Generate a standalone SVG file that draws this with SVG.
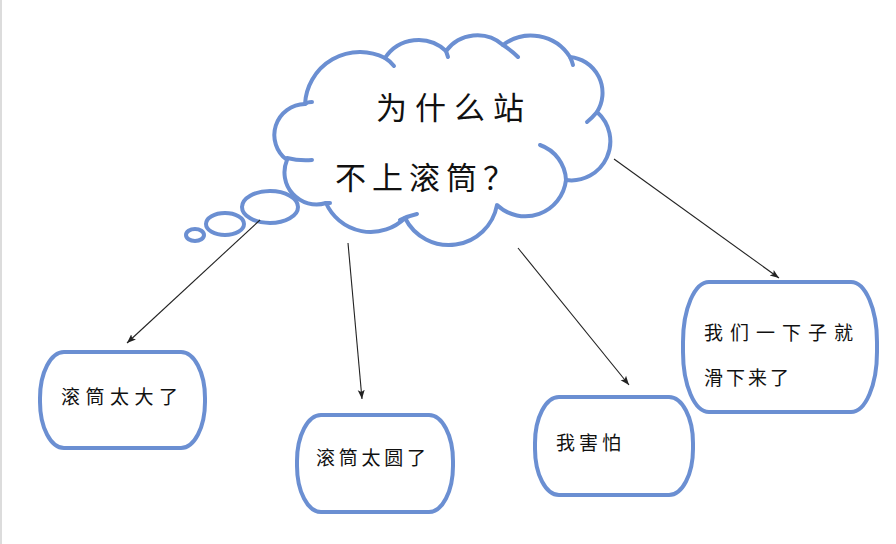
<svg xmlns="http://www.w3.org/2000/svg" width="896" height="544" viewBox="0 0 896 544">
<style>
.shape{fill:#fff;stroke:#6b8fd2;stroke-width:4;stroke-linecap:round;stroke-linejoin:round}
.hook{fill:none;stroke:#6b8fd2;stroke-width:4;stroke-linecap:round}
.conn{fill:none;stroke:#222;stroke-width:1.1}
.t{font-family:"Noto Sans CJK SC","Noto Sans CJK JP",sans-serif;fill:#111}
.big{font-size:31px}
.sm{font-size:19px}
</style>
<defs>
<marker id="ah" markerUnits="userSpaceOnUse" markerWidth="10" markerHeight="10" viewBox="0 0 10 10" refX="9" refY="5" orient="auto">
<path d="M0,1.5 L9,5 L0,8.5 L2,5 Z" fill="#222"/>
</marker>
</defs>
<rect width="896" height="544" fill="#fff"/>
<line x1="1" y1="0" x2="1" y2="544" stroke="#dcdcdc" stroke-width="2"/>

<g id="cloud">
<path class="shape" d="M305,104 A55,55 0 0 1 385,58 A40,40 0 0 1 446,51 A39,39 0 0 1 503,45 A46,46 0 0 1 570,57 A36,36 0 0 1 597,112 A39,39 0 0 1 566,180 A41,41 0 0 1 497,205 A49,49 0 0 1 405,218 A49,49 0 0 1 326,203 A32,32 0 0 1 287,160 A31,31 0 0 1 305,104 Z"/>
<path class="hook" d="M540,145 A39,39 0 0 1 566,180"/>
<path class="hook" d="M400,220 Q408,216 417,214"/>
<path class="hook" d="M287,158 Q299,161 312,160"/>
<path class="hook" d="M385,58 Q390,61 394,66"/>
<path class="hook" d="M446,51 Q447,54 448,57"/>
<path class="hook" d="M503,45 Q511,50 518,57"/>
<path class="hook" d="M570,57 Q572,61 573,65"/>
<path class="hook" d="M597,112 Q592,118 587,122"/>
<path class="hook" d="M326,203 Q328,203 330,203"/>
<path class="hook" d="M305,104 Q307,102 312,102"/>
<text class="t big" x="376" y="119" letter-spacing="8">为什么站</text>
<text class="t big" x="335" y="189" letter-spacing="6">不上滚筒？</text>
</g>

<g id="bubbles">
<ellipse class="shape" cx="270" cy="207" rx="28" ry="16"/>
<ellipse class="shape" cx="225" cy="224" rx="19" ry="11"/>
<ellipse class="shape" cx="195" cy="235" rx="9" ry="6"/>
</g>

<g id="connectors">
<line class="conn" x1="260" y1="220" x2="127" y2="343" marker-end="url(#ah)"/>
<line class="conn" x1="348" y1="243" x2="362" y2="399" marker-end="url(#ah)"/>
<line class="conn" x1="518" y1="248" x2="629" y2="385" marker-end="url(#ah)"/>
<line class="conn" x1="614" y1="159" x2="779" y2="278" marker-end="url(#ah)"/>
</g>

<g id="node1">
<rect class="shape" x="40" y="352" width="165" height="96" rx="24" ry="46"/>
<text class="t sm" x="61" y="404" letter-spacing="5.5">滚筒太大了</text>
</g>
<g id="node2">
<rect class="shape" x="297" y="415" width="156" height="97" rx="24" ry="46"/>
<text class="t sm" x="316" y="465" letter-spacing="3.75">滚筒太圆了</text>
</g>
<g id="node3">
<rect class="shape" x="535" y="397" width="158" height="98" rx="24" ry="46"/>
<text class="t sm" x="556" y="450" letter-spacing="4">我害怕</text>
</g>
<g id="node4">
<rect class="shape" x="683" y="282" width="194" height="130" rx="26" ry="60"/>
<text class="t sm" x="704" y="340" letter-spacing="7">我们一下子就</text>
<text class="t sm" x="704" y="385" letter-spacing="3">滑下来了</text>
</g>
</svg>
